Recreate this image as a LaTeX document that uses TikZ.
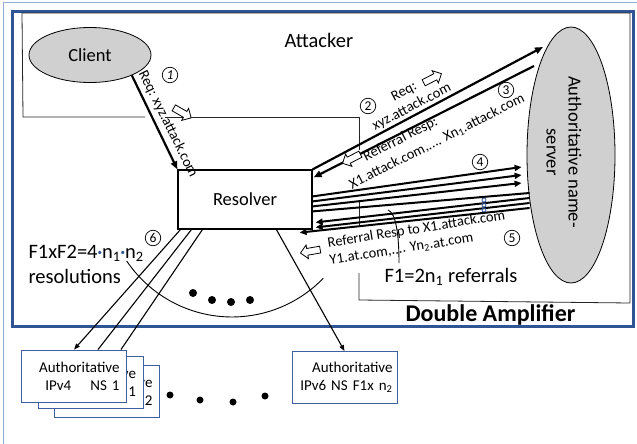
\documentclass[tikz,border=0pt]{standalone}
\usepackage{fontspec}
\setmainfont{Carlito}
\usetikzlibrary{shapes.geometric,shapes.arrows,arrows.meta,calc}
\definecolor{frameblue}{RGB}{47,85,151}
\definecolor{lightframe}{RGB}{150,172,215}
\definecolor{boxblue}{RGB}{62,96,160}
\definecolor{ellgray}{RGB}{208,208,208}
\newcommand{\bluedot}{\raisebox{2.6pt}{\color{frameblue}\fontsize{9}{9}\selectfont\textbullet}}
\begin{document}
\begin{tikzpicture}[x=1pt,y=-1pt,
  big/.style={font=\fontsize{18.5}{22}\selectfont},
  lbl/.style={font=\fontsize{14.5}{17}\selectfont},
  mid/.style={font=\fontsize{20.5}{24}\selectfont},
  thinline/.style={line width=0.8pt,draw=black!85},
  bigarrow/.style={line width=2.2pt,-{Triangle[length=8pt,width=6.5pt]}},
  bundlearrow/.style={line width=2pt,-{Triangle[length=7pt,width=6pt]}},
  bundleline/.style={line width=2pt},
  thinarrow/.style={line width=1.1pt,-{Triangle[length=6pt,width=4.5pt]}},
  hollow/.style={single arrow,draw,fill=white,line width=0.8pt,minimum height=20pt,
    single arrow head extend=3.5pt,inner sep=3pt,single arrow head indent=0pt},
  circnum/.style={circle,draw,line width=0.7pt,inner sep=0pt,minimum size=15.5pt,
    font=\fontsize{13.5}{13.5}\selectfont},
  nsbox/.style={draw=boxblue,fill=white,line width=0.9pt,minimum width=105pt,
    minimum height=52pt,text width=91pt,align=right,inner sep=0pt,
    font=\fontsize{15}{18}\selectfont}
]
\useasboundingbox (0,0) rectangle (637,444);
\fill[white] (0,0) rectangle (637,444);
% outer thin frame and thick frame
\draw[lightframe,line width=1pt] (3,444) -- (3,2.5) -- (637,2.5);
\draw[frameblue,line width=3pt] (12,12) rectangle (633,326);
% attacker outline
\draw[thinline] (145,117) -- (23,117) -- (22,13) -- (630,13) -- (630,303) -- (359,300) -- (359,273);
\draw[thinline] (359,227) -- (359,200);
\draw[thinline] (359,150) -- (359,117) -- (165,117);
\node[font=\fontsize{20.5}{24}\selectfont,anchor=base west] (attacker) at (281,48) {Attacker};

% main nodes
\node[ellipse,draw,fill=ellgray,line width=0.8pt,minimum width=122pt,minimum height=55pt,big] (client) at (90,55) {Client};
\node[draw,line width=1.2pt,minimum width=134pt,minimum height=59pt,inner sep=0pt,big] (resolver) at (245,199.5) {Resolver};
\node[ellipse,draw,fill=ellgray,line width=0.8pt,minimum width=88pt,minimum height=256pt] (ns) at (571,155) {};
\node[big,rotate=-90,align=center] (nstext) at (564,152) {Authoritative name-\\server};

% step 1
\draw[bigarrow] (client.-26) -- (resolver.north west);
\node[lbl,rotate=-63.7] (l1) at (168,124) {Req: xyz.attack.com};
\node[circnum] (c1) at (170,75) {\itshape 1};
\node[hollow,rotate=-30] (h1) at (181,112) {};

% step 2
\coordinate (ns2) at (543,47);
\draw[bigarrow] (resolver.north east) -- (ns2);
\node[lbl,rotate=27.5,anchor=base west] (l2a) at (391,103) {Req:};
\node[lbl,rotate=27.5,anchor=base west] (l2b) at (372,132) {xyz.attack.com};
\node[hollow,rotate=27] (h2) at (431,79) {};
\node[circnum] (c2) at (368,106) {2};

% step 3
\coordinate (ns3) at (534,66);
\draw[bigarrow] (ns3) -- ($(resolver.north east)+(1,8)$);
\node[lbl,rotate=27,anchor=base west] (l3a) at (363,163) {Referral Resp:};
\node[lbl,rotate=27,anchor=base west] (l3b) at (349,191) {X1.attack.com,.... Xn\textsubscript{1}.attack.com};
\node[hollow,rotate=207] (h3) at (353,158) {};
\node[circnum] (c3) at (506,90) {3};

% step 4 bundle
\draw[bundlearrow] ($(resolver.north east)+(0,27)$) -- ($(ns.west)+(-5,12)$);
\draw[bundlearrow] ($(resolver.north east)+(0,32)$) -- ($(ns.west)+(-5,20)$);
\draw[bundlearrow] ($(resolver.north east)+(0,37)$) -- ($(ns.west)+(-5,28)$);
\draw[bundleline] ($(resolver.north east)+(0,42)$) -- ($(ns.west)+(3,38)$);
\node[circnum] (c4) at (480,162) {4};
% step 5 bundle
\draw[bundlearrow] ($(ns.west)+(3,43)$) -- ($(resolver.north east)+(3,53)$);
\draw[bundlearrow] ($(ns.west)+(3,48)$) -- ($(resolver.north east)+(3,58)$);
\draw[bundlearrow] ($(ns.west)+(3,53)$) -- ($(resolver.south east)+(-13,3)$);
\draw[frameblue,line width=0.8pt] (484,200) circle[radius=2pt] (484,205) circle[radius=2pt] (484,210) circle[radius=2pt];
\node[lbl,rotate=9,anchor=base west] (l5a) at (325,248) {Referral Resp to X1.attack.com};
\node[lbl,rotate=9,anchor=base west] (l5b) at (327,265) {Y1.at.com,.... Yn\textsubscript{2}.at.com};
\node[hollow,rotate=190] (h5) at (312,251) {};
\node[circnum] (c5) at (512,238) {5};
\draw[line width=0.9pt] (388,210) .. controls (396,213) and (399,235) .. (399,263);
\node[mid,anchor=base west] (f1) at (381,282) {F1=2n\textsubscript{1} referrals};
\node[font=\bfseries\fontsize{24}{28}\selectfont,anchor=base west] (dbl) at (402,321) {Double Amplifier};

% step 6
\node[circnum] (c6) at (153,238) {6};
\node[mid,anchor=base west] (f12) at (25,258) {F1xF2=4\bluedot n\textsubscript{1}\bluedot n\textsubscript{2}};
\node[mid,anchor=base west] (res) at (25,283) {resolutions};
\draw[line width=0.9pt] (126.7,261) arc[start angle=146,end angle=44,radius=127];
\foreach \px/\py in {193/293,212/300,231/302,250/300} \fill (\px,\py) circle[radius=4pt];

% authoritative boxes
\node[nsbox] (b3) at (107,391.5) {Authoritative\\IPv4 NS 2};
\node[nsbox] (b2) at (90.5,382) {Authoritative\\IPv4 NS 1};
\node[nsbox] (b1) at (74,376) {Authoritative\\IPv4\hspace{19pt}NS 1};
\node[nsbox,text width=96pt] (b6) at (344.5,377.5) {Authoritative\\IPv6 NS F1x n\textsubscript{2}};
\foreach \px/\py in {170/395,200/400,233/402,265/396} \fill (\px,\py) circle[radius=3.5pt];

\draw[thinarrow] ($(resolver.south west)+(3,0)$) -- (b1.north);
\draw[line width=1.1pt] ($(resolver.south west)+(14,0)$) -- ($(b1.north)+(24,0)$);
\draw[line width=1.1pt] ($(resolver.south west)+(25,0)$) -- ($(b1.north)+(47,0)$);
\draw[thinarrow] ($(resolver.south west)+(99,0)$) -- (b6.north);
\end{tikzpicture}
\end{document}
